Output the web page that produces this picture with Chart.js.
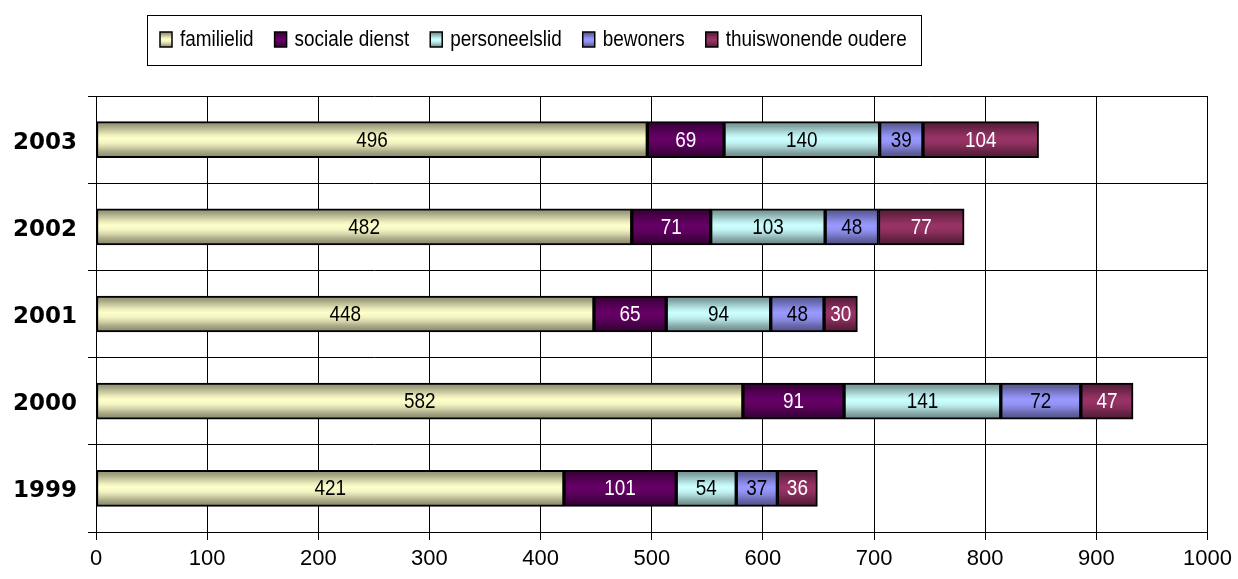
<!DOCTYPE html>
<html>
<head>
<meta charset="utf-8">
<script src="https://cdn.jsdelivr.net/npm/chart.js@4.4.0/dist/chart.umd.min.js"></script>
<style>
  body{ margin:0; background:#fff; }
  #wrap{ width:1238px; height:579px; }
</style>
</head>
<body>
<div id="wrap"><canvas id="myChart" width="1238" height="579"></canvas></div>
<script>
// years, top to bottom
const years = ['2003', '2002', '2001', '2000', '1999'];

const familielid      = [496, 482, 448, 582, 421];
const socialeDienst   = [69, 71, 65, 91, 101];
const personeelslid   = [140, 103, 94, 141, 54];
const bewoners        = [39, 48, 48, 72, 37];
const thuiswonende    = [104, 77, 30, 47, 36];

const xTicks = [0, 100, 200, 300, 400, 500, 600, 700, 800, 900, 1000];

const series = [
    {label: 'familielid', data: familielid, rgb: [255, 255, 204], text: '#000'},
    {label: 'sociale dienst', data: socialeDienst, rgb: [102, 0, 102], text: '#fff'},
    {label: 'personeelslid', data: personeelslid, rgb: [204, 255, 255], text: '#000'},
    {label: 'bewoners', data: bewoners, rgb: [153, 153, 255], text: '#000'},
    {label: 'thuiswonende oudere', data: thuiswonende, rgb: [153, 51, 102], text: '#fff'}
];

const BAR_H = 36;

function shade(rgb, f){
    return 'rgb(' + rgb.map(v => Math.round(v * f)).join(',') + ')';
}

// striped "cylinder" look, darker at top and bottom
const bands = [[0, .56], [.12, .64], [.24, .78], [.36, .92], [.46, 1], [.58, .96], [.7, .84], [.82, .68], [.92, .58], [1, .54]];

function cylinder(rgb){
    return function(ctx){
        const chart = ctx.chart;
        const y = chart.scales.y;
        if(!y || ctx.dataIndex === undefined) return shade(rgb, 1);
        const c = y.getPixelForValue(ctx.dataIndex);
        if(!isFinite(c)) return shade(rgb, 1);
        const g = chart.ctx.createLinearGradient(0, c - BAR_H / 2, 0, c + BAR_H / 2);
        bands.forEach(b => g.addColorStop(b[0], shade(rgb, b[1])));
        return g;
    };
}

const labelPlugin = {
    id: 'barLabels',
    afterDatasetsDraw(chart){
        const ctx = chart.ctx;
        ctx.save();
        ctx.font = '22px "Liberation Sans", Arial, sans-serif';
        ctx.textAlign = 'center';
        ctx.textBaseline = 'middle';
        chart.data.datasets.forEach((ds, di) => {
            const meta = chart.getDatasetMeta(di);
            meta.data.forEach((bar, i) => {
                const cx = (bar.x + bar.base) / 2;
                ctx.save();
                ctx.translate(cx, bar.y + 1);
                ctx.scale(0.86, 1);
                ctx.fillStyle = series[di].text;
                ctx.fillText(String(ds.data[i]), 0, 0);
                ctx.restore();
            });
        });
        ctx.restore();
    }
};

const legendPlugin = {
    id: 'boxLegend',
    afterDraw(chart){
        const ctx = chart.ctx;
        const font = '22px "Liberation Sans", Arial, sans-serif';
        const sx = 0.86;
        ctx.save();
        ctx.lineWidth = 1;
        ctx.strokeStyle = '#000';
        ctx.strokeRect(147.5, 15.5, 774, 50);
        ctx.font = font;
        ctx.textBaseline = 'middle';
        let x = 160;
        const cy = 40;
        series.forEach(s => {
            const g = ctx.createLinearGradient(0, cy - 8, 0, cy + 8);
            bands.forEach(b => g.addColorStop(b[0], shade(s.rgb, b[1])));
            ctx.fillStyle = g;
            ctx.fillRect(x, cy - 8, 12, 15);
            ctx.strokeStyle = '#000';
            ctx.lineWidth = 1.5;
            ctx.strokeRect(x, cy - 8, 12, 15);
            x += 20;
            ctx.save();
            ctx.translate(x, cy);
            ctx.scale(sx, 1);
            ctx.fillStyle = '#000';
            ctx.fillText(s.label, 0, 0);
            ctx.restore();
            x += ctx.measureText(s.label).width * sx + 21;
        });
        ctx.restore();
    }
};

new Chart(document.getElementById('myChart').getContext('2d'), {
    type: 'bar',
    data: {
        labels: years,
        datasets: series.map(s => ({
            label: s.label,
            data: s.data,
            backgroundColor: cylinder(s.rgb),
            borderColor: '#000',
            borderWidth: 2,
            borderSkipped: false,
            barThickness: BAR_H
        }))
    },
    options: {
        indexAxis: 'y',
        responsive: false,
        animation: false,
        layout: {padding: {top: 96, right: 25, bottom: 0, left: 0}},
        plugins: {legend: {display: false}, tooltip: {enabled: false}},
        scales: {
            x: {
                stacked: true,
                min: 0,
                max: 1000,
                afterBuildTicks: axis => { axis.ticks = xTicks.map(v => ({value: v})); },
                afterFit: axis => { axis.height = 47; },
                grid: {color: '#000', lineWidth: 1, tickLength: 8},
                border: {color: '#000', width: 1},
                ticks: {
                    color: '#000', padding: 6,
                    font: {family: '"Liberation Sans", Arial', size: 22},
                    callback: v => String(v)
                }
            },
            y: {
                stacked: true,
                afterFit: axis => { axis.width = 96; },
                grid: {offset: true, color: '#000', lineWidth: 1, tickLength: 8},
                border: {color: '#000', width: 1},
                ticks: {color: '#000', padding: 11, labelOffset: 3, font: {family: '"DejaVu Sans"', size: 23, weight: 'bold'}}
            }
        }
    },
    plugins: [labelPlugin, legendPlugin]
});
</script>
</body>
</html>
